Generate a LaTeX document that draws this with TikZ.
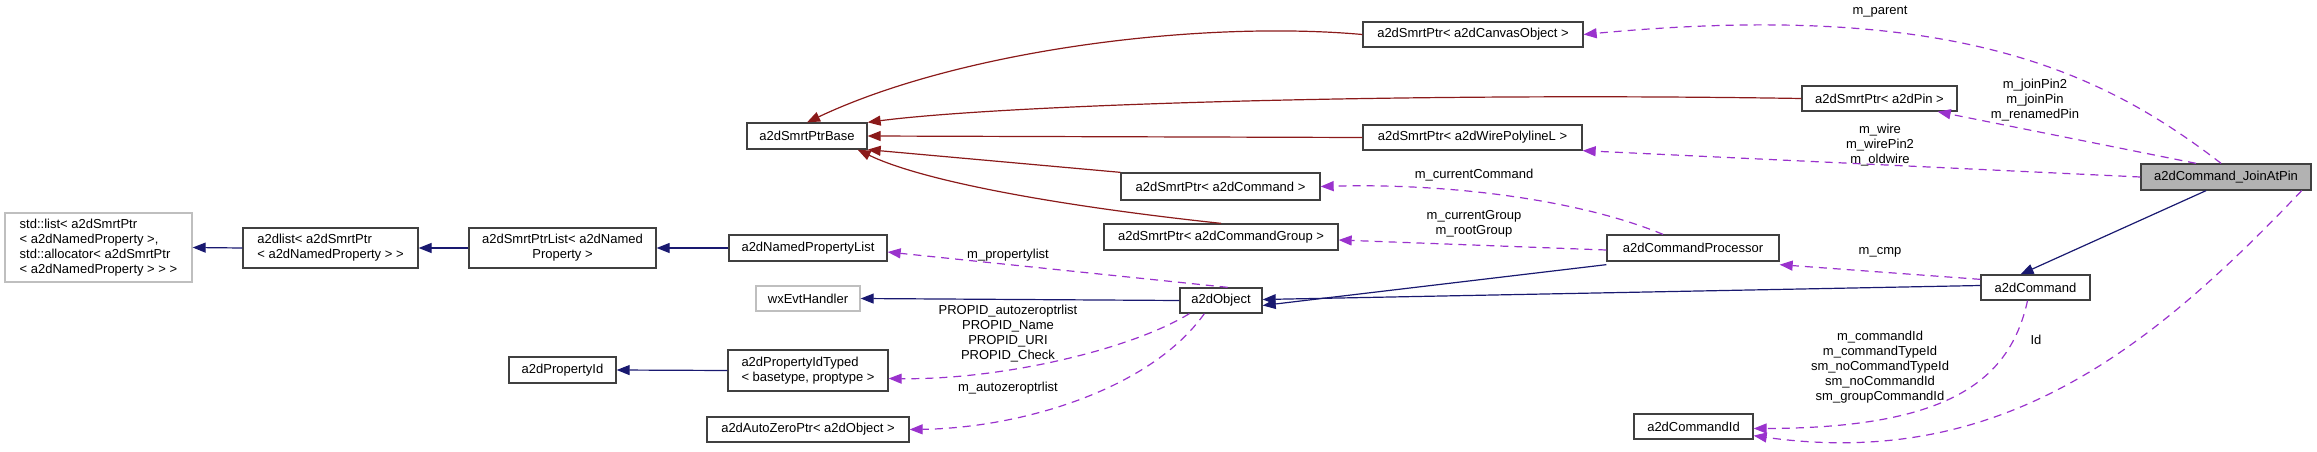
\documentclass[tikz,border=0pt]{standalone}
\usepackage{fontspec}
\setmainfont{Liberation Sans}
\usetikzlibrary{arrows.meta}
\definecolor{inh}{HTML}{191970}
\definecolor{tpl}{HTML}{8B1A1A}
\definecolor{use}{HTML}{9A32CD}
\begin{document}
\begin{tikzpicture}[x=1pt,y=-1pt,
  every node/.style={font=\fontsize{13}{15}\selectfont},
  box/.style={draw=black!75,line width=1.3pt,fill=white,inner sep=0pt,align=center},
  gbox/.style={draw=black!25,line width=1.3pt,fill=white,inner sep=0pt,align=left},
  inhedge/.style={draw=inh,line width=1.2pt,-{Triangle[length=13pt,width=10pt]}},
  tpledge/.style={draw=tpl,line width=1.2pt,-{Triangle[length=13pt,width=10pt]}},
  useedge/.style={draw=use,line width=1.2pt,dash pattern=on 8pt off 6pt,-{Triangle[length=13pt,width=10pt]}},
  lbl/.style={align=center,inner sep=0pt}]
\useasboundingbox (0,0) rectangle (2317,452);
\newcommand\bx[6]{\node[#1,minimum width={#4-#3},minimum height={#6-#5}] (#2) at ({(#3+#4)/2},{(#5+#6)/2})}
\bx{gbox}{stdl}{5}{192}{213}{282} {std::list< a2dSmrtPtr\\< a2dNamedProperty >,\\ std::allocator< a2dSmrtPtr\\< a2dNamedProperty > > >};
\bx{box}{alist}{243}{418}{228}{268} {\begin{tabular}{@{}l@{}}a2dlist< a2dSmrtPtr\\< a2dNamedProperty > >\end{tabular}};
\bx{box}{splist}{469}{656}{228}{268} {a2dSmrtPtrList< a2dNamed\\Property >};
\bx{box}{npl}{729}{887}{235}{261} {a2dNamedPropertyList};
\bx{gbox}{wx}{756}{860}{286}{311} {wxEvtHandler};
\bx{box}{pid}{509}{616}{357}{383} {a2dPropertyId};
\bx{box}{pidt}{728}{888}{350}{391} {\begin{tabular}{@{}l@{}}a2dPropertyIdTyped\\< basetype, proptype >\end{tabular}};
\bx{box}{azp}{707}{909}{417}{442} {a2dAutoZeroPtr< a2dObject >};
\bx{box}{base}{747}{867}{123}{149} {a2dSmrtPtrBase};
\bx{box}{obj}{1180}{1262}{288}{313} {a2dObject};
\bx{box}{canvas}{1363}{1583}{22}{47} {a2dSmrtPtr< a2dCanvasObject >};
\bx{box}{wire}{1363}{1582}{125}{150} {a2dSmrtPtr< a2dWirePolylineL >};
\bx{box}{spcmd}{1121}{1320}{173}{200} {a2dSmrtPtr< a2dCommand >};
\bx{box}{spgrp}{1104}{1338}{224}{250} {a2dSmrtPtr< a2dCommandGroup >};
\bx{box}{pin}{1802}{1957}{86}{111} {a2dSmrtPtr< a2dPin >};
\bx{box,fill=black!30}{join}{2141}{2311}{164}{190} {a2dCommand\_JoinAtPin};
\bx{box}{proc}{1607}{1779}{235}{261} {a2dCommandProcessor};
\bx{box}{cmd}{1981}{2090}{275}{300} {a2dCommand};
\bx{box}{cid}{1634}{1753}{414}{439} {a2dCommandId};
% template instantiation
\draw[tpledge] (canvas.west) .. controls (1200,20) and (960,50) .. (base.north);
\draw[tpledge] (pin.west) .. controls (1400,92) and (1000,105) .. (base.north east);
\draw[tpledge] (wire.west) -- (base.east);
\draw[tpledge] (spcmd.north west) -- (base.south east);
\draw[tpledge] (spgrp.north) .. controls (1050,205) and (920,180) .. ([xshift=-10pt]base.south east);
% inheritance
\draw[inhedge] (alist.west) -- (stdl.east);
\draw[inhedge] (splist.west) -- (alist.east);
\draw[inhedge] (npl.west) -- (splist.east);
\draw[inhedge] (pidt.west) -- (pid.east);
\draw[inhedge] (obj.west) -- (wx.east);
\draw[inhedge] ([yshift=-3pt]proc.south west) -- ([yshift=-5pt]obj.east);
\draw[inhedge] ([yshift=2pt]cmd.west) -- ([yshift=1pt]obj.east);
\draw[inhedge] ([xshift=-20pt]join.south) -- ([xshift=-15pt]cmd.north);
% usage
\draw[useedge] ([xshift=-5pt]join.north) .. controls (2100,70) and (1950,0) .. (canvas.east);
\node[lbl] (l1) at (1880,12) {m\_parent};
\draw[useedge] ([xshift=-30pt]join.north) -- ([xshift=-20pt]pin.south east);
\node[lbl] (l2) at (2035,100) {m\_joinPin2\\m\_joinPin\\m\_renamedPin};
\draw[useedge] (join.west) -- (wire.south east);
\node[lbl] (l3) at (1880,145) {m\_wire\\m\_wirePin2\\m\_oldwire};
\draw[useedge] ([xshift=-30pt]proc.north) .. controls (1580,200) and (1450,183) .. (spcmd.east);
\node[lbl] (l4) at (1474,175) {m\_currentCommand};
\draw[useedge] ([yshift=-2pt]proc.west) -- ([yshift=-3pt]spgrp.east);
\node[lbl] (l5) at (1474,224) {m\_currentGroup\\m\_rootGroup};
\draw[useedge] ([xshift=-35pt]obj.north east) -- ([yshift=-4pt]npl.east);
\node[lbl] (l6) at (1008,255) {m\_propertylist};
\draw[useedge] ([xshift=10pt]obj.south west) .. controls (1130,350) and (1000,380) .. ([yshift=-8pt]pidt.east);
\node[lbl] (l7) at (1008,334) {PROPID\_autozeroptrlist\\PROPID\_Name\\PROPID\_URI\\PROPID\_Check};
\draw[useedge] ([xshift=25pt]obj.south west) .. controls (1150,390) and (1020,428) .. (azp.east);
\node[lbl] (l8) at (1008,388) {m\_autozeroptrlist};
\draw[useedge] ([yshift=-5pt]cmd.north west) -- ([yshift=-3pt]proc.south east);
\node[lbl] (l9) at (1880,252) {m\_cmp};
\draw[useedge] ([xshift=-8pt]cmd.south) .. controls (2010,380) and (1950,428) .. ([yshift=-2pt]cid.east);
\node[lbl] (l10) at (1880,367) {m\_commandId\\m\_commandTypeId\\sm\_noCommandTypeId\\sm\_noCommandId\\sm\_groupCommandId};
\draw[useedge] ([xshift=-10pt]join.south east) .. controls (2150,350) and (2000,470) .. ([yshift=4pt]cid.south east);
\node[lbl] (l11) at (2036,340) {Id};
\end{tikzpicture}
\end{document}
